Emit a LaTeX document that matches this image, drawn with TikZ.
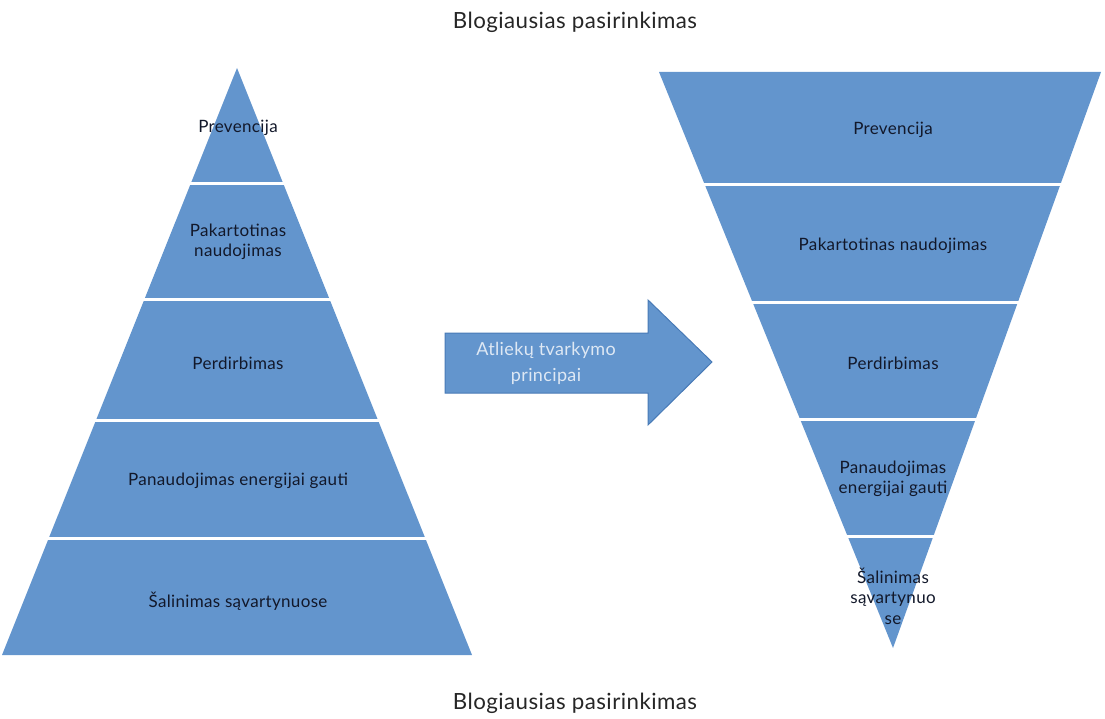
\documentclass[tikz,border=0pt]{standalone}
\usepackage{fontspec}
\setmainfont{Lato}[LetterSpace=2]
\usetikzlibrary{calc}
\definecolor{pyr}{RGB}{99,149,205}
\definecolor{lbl}{RGB}{18,24,42}
\definecolor{arrline}{RGB}{72,122,182}
\definecolor{arrtext}{RGB}{222,232,244}

\begin{document}
\begin{tikzpicture}[x=1pt,y=-1pt,
  layer/.style={font=\fontsize{17}{20.5}\selectfont, text=lbl, align=center},
  heading/.style={font=\fontsize{22.3}{24}\selectfont, text=black!85},
  gap/.style={white, line width=3pt}]

  \useasboundingbox (0,0) rectangle (1105,719);

  \node[heading] (t1) at (575,22) {Blogiausias pasirinkimas};
  \node[heading] (t2) at (575,703) {Blogiausias pasirinkimas};

  % piramide
  \coordinate (A) at (237,68);
  \coordinate (B) at (2,655);
  \coordinate (C) at (472,655);
  \fill[pyr] (A) -- (B) -- (C) -- cycle;
  \foreach \t in {0.196,0.395,0.600,0.801}
    \draw[gap] ($(A)!\t!(B)+(-4,0)$) -- ($(A)!\t!(C)+(4,0)$);

  \node[layer] (l1) at (238,128) {Prevencija};
  \node[layer] (l2) at (238,242) {Pakartotinas\\naudojimas};
  \node[layer] (l3) at (238,363) {Perdirbimas};
  \node[layer] (l4) at (238,481) {Panaudojimas energijai gauti};
  \node[layer] (l5) at (238,601) {Šalinimas sąvartynuose};

  % apversta piramide
  \coordinate (D) at (659,72);
  \coordinate (E) at (1101,72);
  \coordinate (F) at (893,648);
  \fill[pyr] (D) -- (E) -- (F) -- cycle;
  \foreach \t in {0.196,0.401,0.604,0.807}
    \draw[gap] ($(D)!\t!(F)+(-4,0)$) -- ($(E)!\t!(F)+(4,0)$);

  \node[layer] (r1) at (893,130) {Prevencija};
  \node[layer] (r2) at (893,246) {Pakartotinas naudojimas};
  \node[layer] (r3) at (893,363) {Perdirbimas};
  \node[layer] (r4) at (893,479) {Panaudojimas\\energijai gauti};
  \node[layer] (r5) at (893,596) {Šalinimas\\sąvartynuo\\se};

  % rodykle
  \filldraw[fill=pyr, draw=arrline, line width=1pt]
    (445,333) -- (648,333) -- (648,300) -- (712,362) -- (648,425)
    -- (648,393) -- (445,393) -- cycle;
  \node[font=\fontsize{18}{26}\selectfont, text=arrtext, align=center] (ar) at (546,363)
    {Atliekų tvarkymo\\principai};

\end{tikzpicture}
\end{document}
